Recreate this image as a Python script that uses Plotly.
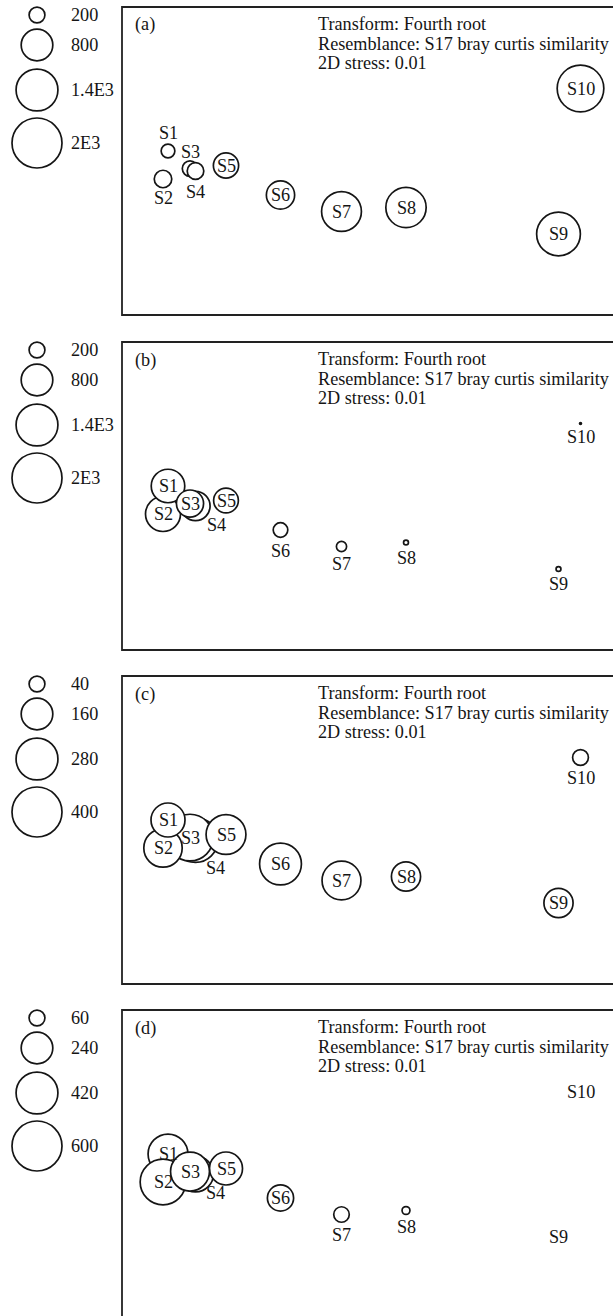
import numpy as np
import plotly.graph_objects as go

FIG_W, FIG_H = 613, 1316
FONT = "Liberation Serif"
INK = "#151515"
FONT_SIZE = 18.2

sites = ["S1", "S2", "S3", "S4", "S5", "S6", "S7", "S8", "S9", "S10"]

# nMDS ordination coordinates, shared by every panel
mds_x = [-0.77, -0.795, -0.66, -0.6325, -0.48, -0.2075, 0.0975, 0.42, 1.1825, 1.2925]
mds_y = [0.03, -0.11, -0.058, -0.07, -0.0425, -0.19, -0.2725, -0.2525, -0.385, 0.3425]

# bubble variables overlaid on the ordination
values_a = [150, 245, 190, 220, 510, 640, 1270, 1300, 1530, 1740]
values_b = [900, 980, 590, 680, 490, 170, 83, 19, 19, 3]
values_c = [185, 236, 349, 320, 254, 280, 242, 136, 136, 40]
values_d = [381, 501, 363, 310, 262, 165, 58, 15, 0, 0]

# bubble key values and their printed labels
key_ab = [200, 800, 1400, 2000]
key_ab_labels = ["200", "800", "1.4E3", "2E3"]
key_c = [40, 160, 280, 400]
key_c_labels = ["40", "160", "280", "400"]
key_d = [60, 240, 420, 600]
key_d_labels = ["60", "240", "420", "600"]

info_lines = ["Transform: Fourth root",
              "Resemblance: S17 bray curtis similarity",
              "2D stress: 0.01"]

# ---- layout geometry (pixels) ----
PANEL_TOPS = [7, 342, 676, 1010]
PANEL_H = 308
BOX_LEFT = 122
PX_PER_UNIT = 200.0
X_MIN = -1.0
Y_MAX = 0.75
BUBBLE_MAX = 50.0          # marker diameter of the largest key bubble
RING_W = 1.7
KEY_X = 37
KEY_Y = [8, 38, 83, 136]   # key bubble centres below panel top
KEY_TEXT_X = 69

panels = [
    dict(tag="(a)", values=values_a, key=key_ab, key_labels=key_ab_labels,
         order=[0, 1, 2, 3, 4, 5, 6, 7, 8, 9],
         offsets={0: (0, -18), 1: (0, 19), 2: (0, -17), 3: (0, 21)}),
    dict(tag="(b)", values=values_b, key=key_ab, key_labels=key_ab_labels,
         order=[1, 0, 3, 2, 4, 5, 6, 7, 8, 9],
         offsets={3: (21, 19), 5: (0, 21), 6: (0, 17), 7: (0, 15), 8: (0, 15), 9: (0, 13)}),
    dict(tag="(c)", values=values_c, key=key_c, key_labels=key_c_labels,
         order=[3, 2, 1, 0, 4, 5, 6, 7, 8, 9],
         offsets={3: (20, 28), 9: (0, 20)}),
    dict(tag="(d)", values=values_d, key=key_d, key_labels=key_d_labels,
         order=[0, 1, 3, 4, 2, 5, 6, 7, 8, 9],
         offsets={3: (20, 19), 6: (0, 20), 7: (0, 16)}),
]


def px_x(x):
    return x / FIG_W


def px_y(y):
    return 1 - y / FIG_H


def diam(v, vmax):
    return BUBBLE_MAX * np.sqrt(v / vmax)


fig = go.Figure()
layout = dict(width=FIG_W, height=FIG_H, margin=dict(l=0, r=0, t=0, b=0),
              paper_bgcolor="white", plot_bgcolor="rgba(0,0,0,0)",
              showlegend=False, annotations=[], shapes=[])

ax_off = dict(visible=False, showgrid=False, zeroline=False, fixedrange=True)

for i, p in enumerate(panels):
    top = PANEL_TOPS[i]
    bottom = min(top + PANEL_H, FIG_H)
    ydom = [px_y(bottom), px_y(top)]
    vmax = max(p["key"])

    # ordination axes
    mi = 2 * i + 1
    li = 2 * i + 2
    layout[f"xaxis{mi}"] = dict(ax_off, domain=[px_x(BOX_LEFT), 1],
                                range=[X_MIN, X_MIN + (FIG_W - BOX_LEFT) / PX_PER_UNIT],
                                anchor=f"y{mi}")
    layout[f"yaxis{mi}"] = dict(ax_off, domain=ydom,
                                range=[Y_MAX - (bottom - top) / PX_PER_UNIT, Y_MAX],
                                anchor=f"x{mi}")
    # key axes (pixel units)
    layout[f"xaxis{li}"] = dict(ax_off, domain=[0, px_x(BOX_LEFT - 2)],
                                range=[0, BOX_LEFT - 2], anchor=f"y{li}")
    layout[f"yaxis{li}"] = dict(ax_off, domain=ydom,
                                range=[bottom - top, 0], anchor=f"x{li}")

    vals = p["values"]
    idx = [k for k in p["order"] if vals[k] > 0]
    fig.add_trace(go.Scatter(
        x=[mds_x[k] for k in idx], y=[mds_y[k] for k in idx],
        mode="markers", xaxis=f"x{mi}", yaxis=f"y{mi}", cliponaxis=False,
        marker=dict(size=[diam(vals[k], vmax) for k in idx], color="white",
                    opacity=1, line=dict(color=INK, width=RING_W)),
        hoverinfo="skip"))

    for k, name in enumerate(sites):
        dx, dy = p["offsets"].get(k, (0, 0))
        layout["annotations"].append(dict(
            x=mds_x[k], y=mds_y[k], xref=f"x{mi}", yref=f"y{mi}",
            text=name, showarrow=False, xanchor="center", yanchor="middle",
            xshift=dx, yshift=-dy,
            font=dict(family=FONT, size=FONT_SIZE, color=INK)))

    # bubble key
    fig.add_trace(go.Scatter(
        x=[KEY_X] * len(p["key"]), y=KEY_Y, mode="markers",
        xaxis=f"x{li}", yaxis=f"y{li}", cliponaxis=False,
        marker=dict(size=[diam(v, vmax) for v in p["key"]], color="white",
                    opacity=1, line=dict(color=INK, width=RING_W)),
        hoverinfo="skip"))
    for ky, lab in zip(KEY_Y, p["key_labels"]):
        layout["annotations"].append(dict(
            x=KEY_TEXT_X, y=ky, xref=f"x{li}", yref=f"y{li}", text=lab,
            showarrow=False, xanchor="left", yanchor="middle",
            font=dict(family=FONT, size=FONT_SIZE, color=INK)))

    # panel tag and analysis notes
    layout["annotations"].append(dict(
        x=px_x(133), y=px_y(top + 18), xref="paper", yref="paper", text=p["tag"],
        showarrow=False, xanchor="left", yanchor="middle",
        font=dict(family=FONT, size=FONT_SIZE, color=INK)))
    for line, ly in zip(info_lines, [17, 37, 56]):
        layout["annotations"].append(dict(
            x=px_x(316), y=px_y(top + ly), xref="paper", yref="paper", text=line,
            showarrow=False, xanchor="left", yanchor="middle",
            font=dict(family=FONT, size=FONT_SIZE, color=INK)))

    # open frame: top, left and bottom edges
    frame = dict(type="path", xref="paper", yref="paper",
                 path=(f"M {px_x(FIG_W + 20)} {px_y(top)} L {px_x(BOX_LEFT)} {px_y(top)} "
                       f"L {px_x(BOX_LEFT)} {px_y(top + PANEL_H)} "
                       f"L {px_x(FIG_W + 20)} {px_y(top + PANEL_H)}"),
                 line=dict(color="#222222", width=1.8))
    layout["shapes"].append(frame)

fig.update_layout(**layout)
fig.write_html("out.html")
